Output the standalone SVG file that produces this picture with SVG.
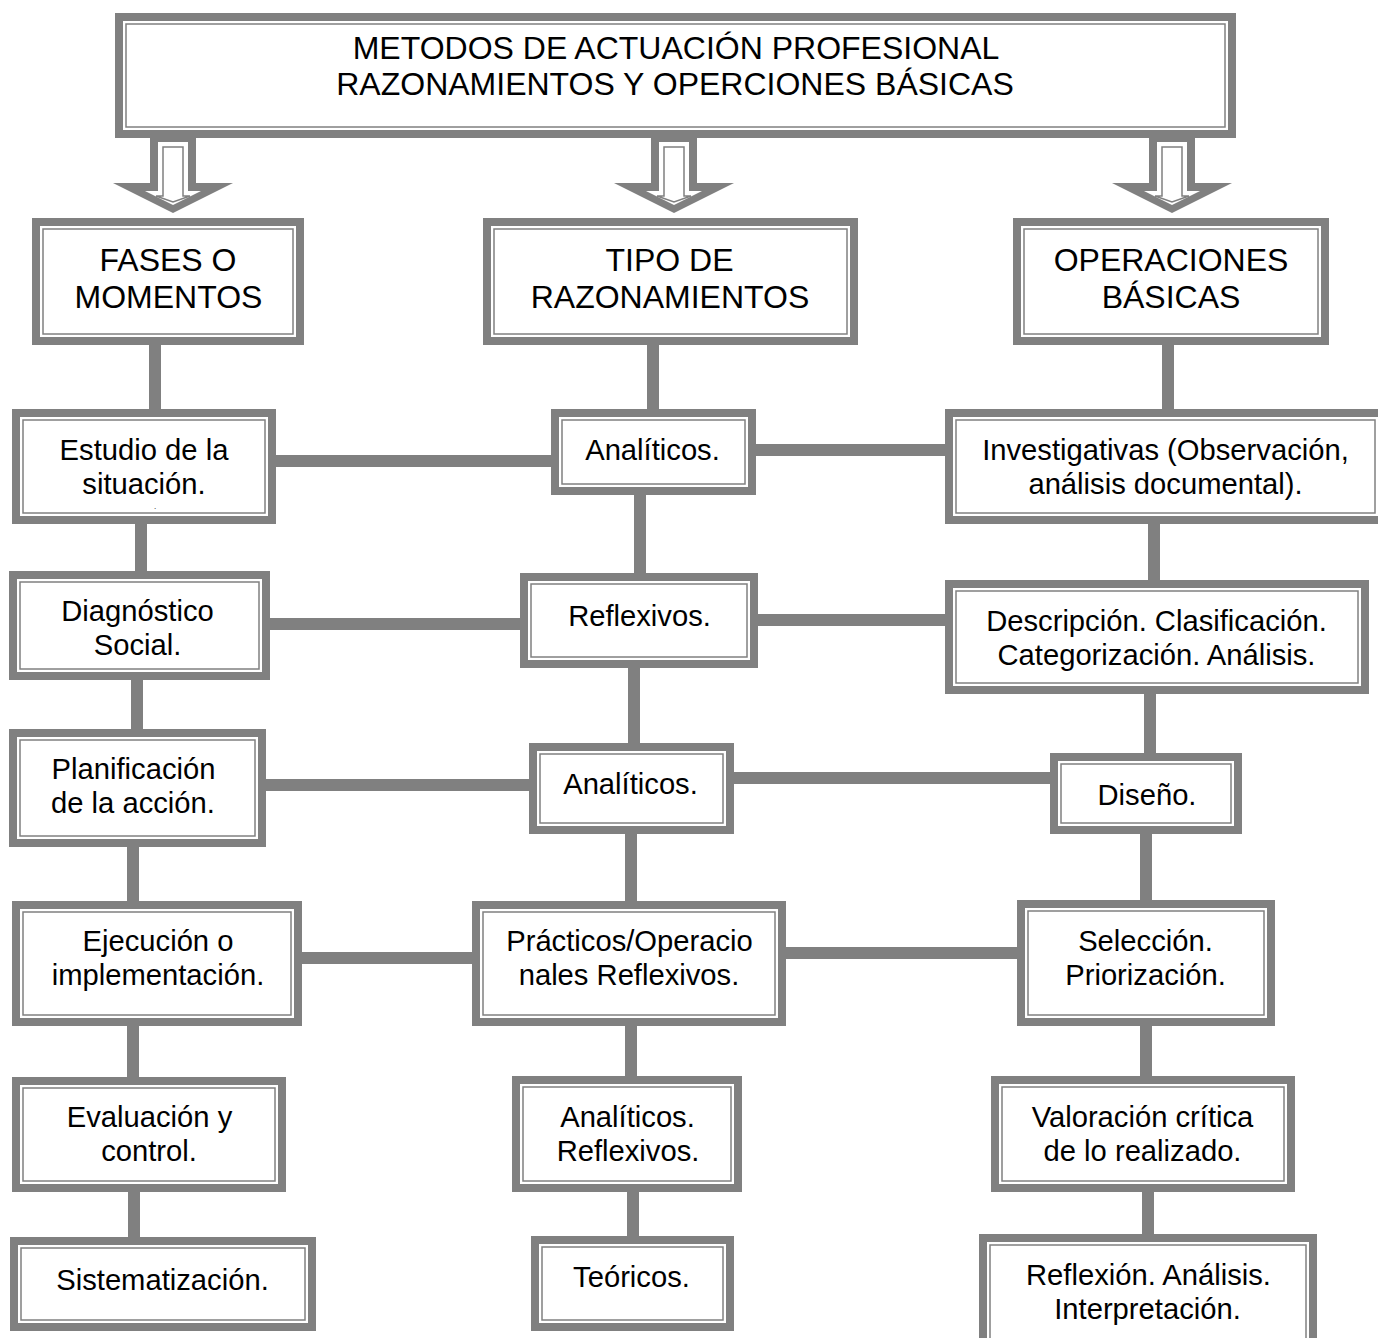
<svg xmlns="http://www.w3.org/2000/svg" width="1378" height="1338" viewBox="0 0 1378 1338">
<style>
.k{fill:#fff;stroke:#808080;stroke-width:8}
.n{fill:none;stroke:#808080;stroke-width:1.5}
.t{font-family:"Liberation Sans",Arial,sans-serif;font-size:29.2px;text-anchor:middle;fill:#000}
.h{font-size:32px}
.c line{stroke:#808080;stroke-width:12}
.ag{fill:#808080}
.aw{fill:#fff}
.an{fill:none;stroke:#808080;stroke-width:1.5}
</style>
<rect width="1378" height="1338" fill="#fff"/>
<g id="connectors" class="c">
<line x1="155" y1="343" x2="155" y2="411"/>
<line x1="141" y1="522" x2="141" y2="573"/>
<line x1="137" y1="678" x2="137" y2="731"/>
<line x1="133" y1="845" x2="133" y2="903"/>
<line x1="133" y1="1024" x2="133" y2="1079"/>
<line x1="134" y1="1190" x2="134" y2="1239"/>
<line x1="653" y1="343" x2="653" y2="411"/>
<line x1="640" y1="493" x2="640" y2="575"/>
<line x1="634" y1="666" x2="634" y2="745"/>
<line x1="631" y1="832" x2="631" y2="903"/>
<line x1="631" y1="1024" x2="631" y2="1078"/>
<line x1="633" y1="1190" x2="633" y2="1238"/>
<line x1="1168" y1="343" x2="1168" y2="411"/>
<line x1="1154" y1="522" x2="1154" y2="582"/>
<line x1="1150" y1="692" x2="1150" y2="755"/>
<line x1="1146" y1="832" x2="1146" y2="902"/>
<line x1="1146" y1="1024" x2="1146" y2="1078"/>
<line x1="1148" y1="1190" x2="1148" y2="1236"/>
<line x1="274" y1="461" x2="553" y2="461"/>
<line x1="754" y1="450" x2="947" y2="450"/>
<line x1="268" y1="624" x2="522" y2="624"/>
<line x1="756" y1="620" x2="947" y2="620"/>
<line x1="264" y1="785" x2="531" y2="785"/>
<line x1="732" y1="778" x2="1052" y2="778"/>
<line x1="300" y1="958" x2="474" y2="958"/>
<line x1="784" y1="953" x2="1019" y2="953"/>
</g>
<g id="title">
<rect class="k" x="119" y="17" width="1113" height="117"/>
<rect class="n" x="126" y="24" width="1099" height="103"/>
<text class="t h" x="676" y="58.5">METODOS DE ACTUACIÓN PROFESIONAL</text>
<text class="t h" x="675" y="95">RAZONAMIENTOS Y OPERCIONES BÁSICAS</text>
</g>
<g id="arrow-left">
<polygon class="ag" points="150,134 196,134 196,183 233,183 173,213 113,183 150,183"/>
<polygon class="aw" points="158,142 188,142 188,191 201,191 173,205 145,191 158,191"/>
<polygon class="an" points="163,147 183,147 183,196 190,196 173,202 156,196 163,196"/>
</g>
<g id="arrow-mid">
<polygon class="ag" points="651,134 697,134 697,183 734,183 674,213 614,183 651,183"/>
<polygon class="aw" points="659,142 689,142 689,191 702,191 674,205 646,191 659,191"/>
<polygon class="an" points="664,147 684,147 684,196 691,196 674,202 657,196 664,196"/>
</g>
<g id="arrow-right">
<polygon class="ag" points="1149,134 1195,134 1195,183 1232,183 1172,213 1112,183 1149,183"/>
<polygon class="aw" points="1157,142 1187,142 1187,191 1200,191 1172,205 1144,191 1157,191"/>
<polygon class="an" points="1162,147 1182,147 1182,196 1189,196 1172,202 1155,196 1162,196"/>
</g>
<g id="fases">
<rect class="k" x="36" y="222" width="264" height="119"/>
<rect class="n" x="43" y="229" width="250" height="105"/>
<text class="t h" x="168" y="270.5">FASES O</text>
<text class="t h" x="168.5" y="307.5">MOMENTOS</text>
</g>
<g id="tipo">
<rect class="k" x="487" y="222" width="367" height="119"/>
<rect class="n" x="494" y="229" width="353" height="105"/>
<text class="t h" x="669.5" y="270.5">TIPO DE</text>
<text class="t h" x="670" y="307.5">RAZONAMIENTOS</text>
</g>
<g id="operaciones">
<rect class="k" x="1017" y="222" width="308" height="119"/>
<rect class="n" x="1024" y="229" width="294" height="105"/>
<text class="t h" x="1171" y="270.5">OPERACIONES</text>
<text class="t h" x="1171" y="307.5">BÁSICAS</text>
</g>
<g id="estudio">
<rect class="k" x="16" y="413" width="256" height="107"/>
<rect class="n" x="23" y="420" width="242" height="93"/>
<text class="t" x="144" y="460">Estudio de la</text>
<text class="t" x="144" y="494">situación.</text>
<text class="t" x="155" y="509" style="font-size:8px">.</text>
</g>
<g id="diagnostico">
<rect class="k" x="13" y="575" width="253" height="101"/>
<rect class="n" x="20" y="582" width="239" height="87"/>
<text class="t" x="137.5" y="621">Diagnóstico</text>
<text class="t" x="137.5" y="655">Social.</text>
</g>
<g id="planificacion">
<rect class="k" x="13" y="733" width="249" height="110"/>
<rect class="n" x="20" y="740" width="235" height="96"/>
<text class="t" x="133.5" y="779">Planificación</text>
<text class="t" x="133" y="813">de la acción.</text>
</g>
<g id="ejecucion">
<rect class="k" x="16" y="905" width="282" height="117"/>
<rect class="n" x="23" y="912" width="268" height="103"/>
<text class="t" x="158" y="951">Ejecución o</text>
<text class="t" x="158" y="985">implementación.</text>
</g>
<g id="evaluacion">
<rect class="k" x="16" y="1081" width="266" height="107"/>
<rect class="n" x="23" y="1088" width="252" height="93"/>
<text class="t" x="149.5" y="1127">Evaluación y</text>
<text class="t" x="149" y="1161">control.</text>
</g>
<g id="sistematizacion">
<rect class="k" x="14" y="1241" width="298" height="86"/>
<rect class="n" x="21" y="1248" width="284" height="72"/>
<text class="t" x="162.5" y="1290">Sistematización.</text>
</g>
<g id="analiticos1">
<rect class="k" x="555" y="413" width="197" height="78"/>
<rect class="n" x="562" y="420" width="183" height="64"/>
<text class="t" x="652.5" y="460">Analíticos.</text>
</g>
<g id="reflexivos">
<rect class="k" x="524" y="577" width="230" height="87"/>
<rect class="n" x="531" y="584" width="216" height="73"/>
<text class="t" x="639.5" y="626">Reflexivos.</text>
</g>
<g id="analiticos2">
<rect class="k" x="533" y="747" width="197" height="83"/>
<rect class="n" x="540" y="754" width="183" height="69"/>
<text class="t" x="630.5" y="794">Analíticos.</text>
</g>
<g id="practicos">
<rect class="k" x="476" y="905" width="306" height="117"/>
<rect class="n" x="483" y="912" width="292" height="103"/>
<text class="t" x="629.5" y="951">Prácticos/Operacio</text>
<text class="t" x="629" y="985">nales Reflexivos.</text>
</g>
<g id="analiticos-reflexivos">
<rect class="k" x="516" y="1080" width="222" height="108"/>
<rect class="n" x="523" y="1087" width="208" height="94"/>
<text class="t" x="627.5" y="1127">Analíticos.</text>
<text class="t" x="628" y="1161">Reflexivos.</text>
</g>
<g id="teoricos">
<rect class="k" x="535" y="1240" width="195" height="87"/>
<rect class="n" x="542" y="1247" width="181" height="73"/>
<text class="t" x="631.5" y="1287">Teóricos.</text>
</g>
<g id="investigativas">
<rect class="k" x="949" y="413" width="437" height="107"/>
<rect class="n" x="956" y="420" width="419" height="93"/>
<text class="t" x="1165.5" y="460">Investigativas (Observación,</text>
<text class="t" x="1165.5" y="494">análisis documental).</text>
</g>
<g id="descripcion">
<rect class="k" x="949" y="584" width="416" height="106"/>
<rect class="n" x="956" y="591" width="402" height="92"/>
<text class="t" x="1156.5" y="631">Descripción. Clasificación.</text>
<text class="t" x="1156.5" y="665">Categorización. Análisis.</text>
</g>
<g id="diseno">
<rect class="k" x="1054" y="757" width="184" height="73"/>
<rect class="n" x="1061" y="764" width="170" height="59"/>
<text class="t" x="1147" y="805">Diseño.</text>
</g>
<g id="seleccion">
<rect class="k" x="1021" y="904" width="250" height="118"/>
<rect class="n" x="1028" y="911" width="236" height="104"/>
<text class="t" x="1145.5" y="951">Selección.</text>
<text class="t" x="1145.5" y="985">Priorización.</text>
</g>
<g id="valoracion">
<rect class="k" x="995" y="1080" width="296" height="108"/>
<rect class="n" x="1002" y="1087" width="282" height="94"/>
<text class="t" x="1142.5" y="1127">Valoración crítica</text>
<text class="t" x="1142.5" y="1161">de lo realizado.</text>
</g>
<g id="reflexion">
<rect class="k" x="983" y="1238" width="330" height="108"/>
<rect class="n" x="990" y="1245" width="316" height="94"/>
<text class="t" x="1148.5" y="1285">Reflexión. Análisis.</text>
<text class="t" x="1147.5" y="1319">Interpretación.</text>
</g>
</svg>
